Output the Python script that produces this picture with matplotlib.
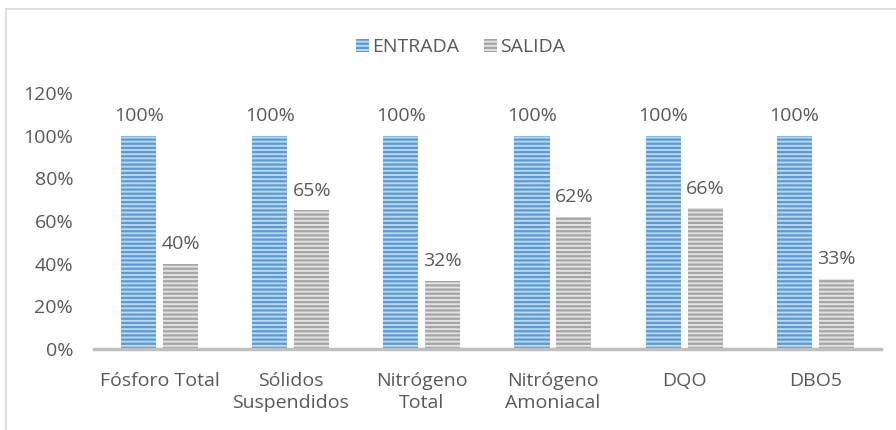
import numpy as np
import matplotlib.pyplot as plt
from matplotlib.lines import Line2D

categories = ["Fósforo Total", "Sólidos\nSuspendidos", "Nitrógeno\nTotal",
              "Nitrógeno\nAmoniacal", "DQO", "DBO5"]
entrada = [1.00, 1.00, 1.00, 1.00, 1.00, 1.00]
salida = [0.40, 0.65, 0.32, 0.62, 0.66, 0.33]

plt.rcParams['font.family'] = ['Open Sans', 'DejaVu Sans']
plt.rcParams['hatch.linewidth'] = 1.6
text_color = '#595959'
fs = 14

fig = plt.figure(figsize=(8.96, 4.30), dpi=100)
ax = fig.add_axes([0.105, 0.1884, 0.878, 0.5956])

x = np.arange(len(categories))
w = 0.267
b1 = ax.bar(x - 0.16, entrada, w, color='#bdd7ee', edgecolor='#5b9bd5',
            hatch='----', linewidth=0, label='ENTRADA')
b2 = ax.bar(x + 0.16, salida, w, color='#e2e2e2', edgecolor='#a5a5a5',
            hatch='----', linewidth=0, label='SALIDA')

for bars, vals in ((b1, entrada), (b2, salida)):
    for rect, v in zip(bars, vals):
        ax.annotate(f"{v * 100:.0f}%", (rect.get_x() + rect.get_width() / 2, v),
                    xytext=(0, 10.5), textcoords='offset points',
                    ha='center', va='baseline', fontsize=fs, color=text_color)

ax.set_xlim(-0.5, len(categories) - 0.5)
ax.set_ylim(0, 1.2)
ax.set_yticks(np.arange(0, 1.21, 0.2))
ax.set_yticklabels([f"{int(round(t * 100))}%" for t in np.arange(0, 1.21, 0.2)])
ax.set_xticks(x)
ax.set_xticklabels(categories, linespacing=1.3)
ax.tick_params(axis='both', length=0, labelsize=fs, colors=text_color)
ax.tick_params(axis='x', pad=16.5)
ax.tick_params(axis='y', pad=15)

for s in ('top', 'right', 'left'):
    ax.spines[s].set_visible(False)
ax.spines['bottom'].set_color('#bfbfbf')
ax.spines['bottom'].set_linewidth(2.5)

leg = fig.legend(loc='center', bbox_to_anchor=(0.514, 0.89), ncol=2, frameon=False,
                 fontsize=fs, handlelength=0.65, handleheight=0.65,
                 handletextpad=0.15, columnspacing=1.3)
for t in leg.get_texts():
    t.set_color(text_color)

# outer chart frame (top and left edges visible)
fig.add_artist(Line2D([6 / 896, 1.0], [1 - 9 / 430, 1 - 9 / 430], color='#d9d9d9', lw=1.2))
fig.add_artist(Line2D([6 / 896, 6 / 896], [0, 1 - 9 / 430], color='#d9d9d9', lw=1.2))

fig.savefig('out.png', dpi=100)
